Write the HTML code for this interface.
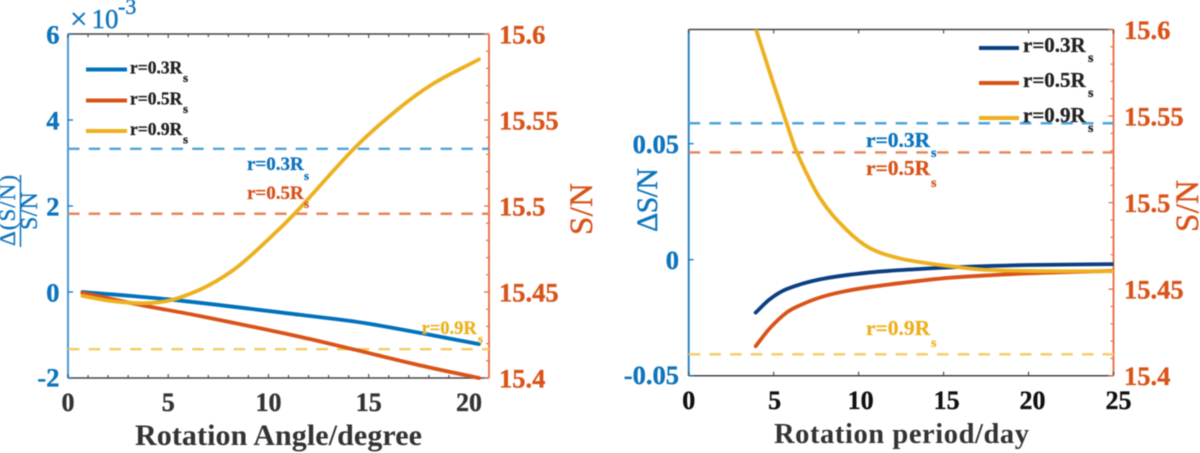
<!DOCTYPE html>
<html lang="en">
<head>
<meta charset="utf-8">
<title>Rotation S/N charts</title>
<style>
html,body{margin:0;padding:0;background:#fff;width:1200px;height:453px;overflow:hidden}
svg{display:block;filter:blur(0.4px)}
text{font-family:"Liberation Serif",serif;font-weight:bold}
.heavy-dark text{stroke:#222;stroke-width:.3px}
.heavy-blue text{stroke:#0d74bd;stroke-width:.3px}
.heavy-orange text{stroke:#d95319;stroke-width:.3px}
.heavy-yellow text{stroke:#edb120;stroke-width:.25px}
</style>
</head>
<body>
<svg id="figure" xmlns="http://www.w3.org/2000/svg" width="1200" height="453" viewBox="0 0 1200 453">
  <defs>
    <clipPath id="clip-left"><rect x="68" y="34" width="421" height="346"/></clipPath>
    <clipPath id="clip-right"><rect x="688.7" y="29.5" width="424.8" height="346.2"/></clipPath>
  </defs>
  <rect x="0" y="0" width="1200" height="453" fill="#fff"/>
  <g id="left-panel"></g>
  <g id="right-panel"></g>

  <text x="135" y="445" font-size="30" fill="#333" textLength="287" lengthAdjust="spacing">Rotation Angle/degree</text>
  <text x="774" y="443" font-size="28.5" fill="#333" textLength="255" lengthAdjust="spacing">Rotation period/day</text>

  <g fill="#0d74bd" stroke="#0d74bd" stroke-width="0.4">
    <text x="70" y="29" font-size="31" style="font-weight:normal">×</text>
    <text x="91.5" y="28" font-size="27" style="font-weight:normal">10</text>
    <text x="118" y="14" font-size="22" style="font-weight:normal">-3</text>
  </g>

  <g fill="#0d74bd" stroke="#0d74bd" stroke-width="0.3">
    <text transform="translate(15,246) rotate(-90)" font-size="23" textLength="71" lengthAdjust="spacing" style="font-weight:normal">Δ(S/N)</text>
    <line x1="20.5" y1="175" x2="20.5" y2="247" stroke="#0d74bd" stroke-width="1.5"/>
    <text transform="translate(37,230) rotate(-90)" font-size="24" textLength="38" lengthAdjust="spacing" style="font-weight:normal">S/N</text>
  </g>
  <text transform="translate(592,235) rotate(-90)" font-size="33" fill="#d95319" stroke="#d95319" stroke-width="0.4" textLength="52" lengthAdjust="spacing" style="font-weight:normal">S/N</text>
  <text transform="translate(657,232) rotate(-90)" font-size="30" fill="#0d74bd" stroke="#0d74bd" stroke-width="0.4" textLength="64" lengthAdjust="spacing" style="font-weight:normal">ΔS/N</text>
  <text transform="translate(1198,232) rotate(-90)" font-size="33" fill="#d95319" stroke="#d95319" stroke-width="0.4" textLength="52" lengthAdjust="spacing" style="font-weight:normal">S/N</text>

  <g class="heavy-dark">
    <g>
      <line x1="86" y1="69.5" x2="127" y2="69.5" stroke="#0072bd" stroke-width="4"/>
      <text x="130" y="73.5" font-size="17.5" fill="#222">r=0.3R</text><text x="183" y="82" font-size="13" fill="#222">s</text>
    </g>
    <g>
      <line x1="86" y1="100.5" x2="127" y2="100.5" stroke="#d95319" stroke-width="4"/>
      <text x="130" y="104.5" font-size="17.5" fill="#222">r=0.5R</text><text x="183" y="113" font-size="13" fill="#222">s</text>
    </g>
    <g>
      <line x1="86" y1="131" x2="127" y2="131" stroke="#edb120" stroke-width="4"/>
      <text x="130" y="135" font-size="17.5" fill="#222">r=0.9R</text><text x="183" y="143.5" font-size="13" fill="#222">s</text>
    </g>
  </g>

  <g class="heavy-dark">
    <g>
      <line x1="979" y1="48" x2="1019" y2="48" stroke="#0b3f82" stroke-width="4"/>
      <text x="1023" y="52" font-size="21" fill="#222">r=0.3R</text><text x="1088" y="62" font-size="14" fill="#222">s</text>
    </g>
    <g>
      <line x1="979" y1="83" x2="1019" y2="83" stroke="#d95319" stroke-width="4"/>
      <text x="1023" y="87" font-size="21" fill="#222">r=0.5R</text><text x="1088" y="97" font-size="14" fill="#222">s</text>
    </g>
    <g>
      <line x1="979" y1="118" x2="1019" y2="118" stroke="#edb120" stroke-width="4"/>
      <text x="1023" y="122" font-size="21" fill="#222">r=0.9R</text><text x="1088" y="132" font-size="14" fill="#222">s</text>
    </g>
  </g>

  <g>
    <g class="heavy-blue" fill="#0d74bd"><text x="247" y="170" font-size="19">r=0.3R</text><text x="304" y="180" font-size="13">s</text></g>
    <g class="heavy-orange" fill="#d95319"><text x="247" y="199" font-size="19">r=0.5R</text><text x="304" y="208" font-size="13">s</text></g>
    <g class="heavy-yellow" fill="#edb120"><text x="421.5" y="334" font-size="18.5">r=0.9R</text><text x="478" y="343" font-size="13">s</text></g>
  </g>
  <g>
    <g class="heavy-blue" fill="#0d74bd"><text x="866" y="147" font-size="21.5">r=0.3R</text><text x="931" y="157" font-size="14">s</text></g>
    <g class="heavy-orange" fill="#d95319"><text x="866" y="175" font-size="21.5">r=0.5R</text><text x="931" y="187" font-size="14">s</text></g>
    <g class="heavy-yellow" fill="#edb120"><text x="866" y="335" font-size="21.5">r=0.9R</text><text x="931" y="347" font-size="14">s</text></g>
  </g>
</svg>
<script>
/* Left panel data: rotation angle (degree) vs relative change (x 10^-3) */
const angleR03X = [0.72, 5, 11.56, 14.9, 20.5];
const angleR03Y = [0, -0.17, -0.53, -0.73, -1.21];
const angleR05X = [0.72, 3.5, 6.6, 11.56, 14.2, 17.5, 20.5];
const angleR05Y = [-0.02, -0.29, -0.56, -1.04, -1.33, -1.7, -2];
const angleR09X = [0.72, 2, 3.5, 4.5, 5.5, 7, 8.55, 10.57, 11.56, 14.3, 16.4, 18.2, 20.5];
const angleR09Y = [-0.09, -0.2, -0.26, -0.24, -0.14, 0.15, 0.62, 1.48, 1.95, 3.35, 4.23, 4.84, 5.41];
const angleLevels = [3.33, 1.82, -1.33];
const angleXTickLabels = [0, 5, 10, 15, 20];
const angleYTickLabels = [6, 4, 2, 0, -2];

/* Right panel data: rotation period (day) vs change in S/N */
const periodR03X = [3.94, 4.78, 5.76, 7.72, 10.66, 13.6, 15.76, 20, 25];
const periodR03Y = [-0.0228, -0.017, -0.0127, -0.0085, -0.0055, -0.004, -0.0032, -0.0023, -0.0019];
const periodR05X = [3.94, 4.78, 5.76, 6.6, 7.72, 9, 10.66, 13.6, 15.7, 20, 25];
const periodR05Y = [-0.0373, -0.0295, -0.0228, -0.0195, -0.0163, -0.0139, -0.0118, -0.0091, -0.0076, -0.0059, -0.0048];
const periodR09X = [3.96, 4.97, 5.76, 6.35, 7.72, 9.3, 10.66, 12.4, 14.4, 15.4, 17.3, 20.2, 25];
const periodR09Y = [0.0992, 0.0762, 0.0589, 0.0465, 0.0266, 0.0128, 0.005, 0.0006, -0.0019, -0.0028, -0.0043, -0.0049, -0.005];
const periodLevels = [0.0588, 0.0462, -0.0408];
const periodXTickLabels = [0, 5, 10, 15, 20, 25];
const periodYTickLabels = ['0.05', '0', '-0.05'];

/* Secondary S/N axis, shared by both panels */
const snrTickLabels = ['15.6', '15.55', '15.5', '15.45', '15.4'];
const snrMinorTicks = [15.41, 15.42, 15.43, 15.44, 15.46, 15.47, 15.48, 15.49, 15.51, 15.52, 15.53, 15.54, 15.56, 15.57, 15.58, 15.59];
const angleMinorTicks = [1, 2, 3, 4, 6, 7, 8, 9, 11, 12, 13, 14, 16, 17, 18, 19];

const NS = 'http://www.w3.org/2000/svg';
const BLUE = '#0d74bd', ORANGE = '#d95319', AXIS_DARK = '#444';

function linearScale(d0, d1, r0, r1) {
  return function (v) { return r0 + (v - d0) * (r1 - r0) / (d1 - d0); };
}
function smoothPath(px, py) {
  let d = 'M' + px[0].toFixed(2) + ' ' + py[0].toFixed(2);
  for (let i = 0; i < px.length - 1; i++) {
    const a = Math.max(i - 1, 0), b = Math.min(i + 2, px.length - 1);
    const h = px[i + 1] - px[i];
    const m0 = (py[i + 1] - py[a]) / (px[i + 1] - px[a]);
    const m1 = (py[b] - py[i]) / (px[b] - px[i]);
    const c1x = px[i] + h / 3, c1y = py[i] + m0 * h / 3;
    const c2x = px[i + 1] - h / 3, c2y = py[i + 1] - m1 * h / 3;
    d += 'C' + c1x.toFixed(2) + ' ' + c1y.toFixed(2) + ' ' + c2x.toFixed(2) + ' ' + c2y.toFixed(2) + ' ' + px[i + 1].toFixed(2) + ' ' + py[i + 1].toFixed(2);
  }
  return d;
}
function addLine(parent, x1, y1, x2, y2, color, width, name) {
  const el = document.createElementNS(NS, 'line');
  el.setAttribute('x1', x1);
  el.setAttribute('y1', y1);
  el.setAttribute('x2', x2);
  el.setAttribute('y2', y2);
  el.setAttribute('stroke', color);
  el.setAttribute('stroke-width', width);
  
  
  parent.appendChild(el);
  return el;
}
function addLabel(parent, x, y, str, anchor, color, size, name) {
  const el = document.createElementNS(NS, 'text');
  el.setAttribute('x', x);
  el.setAttribute('y', y);
  el.setAttribute('text-anchor', anchor);
  el.setAttribute('fill', color);
  el.setAttribute('stroke', color);
  el.setAttribute('stroke-width', '0.35');
  el.setAttribute('font-size', size);
  
  
  el.textContent = str;
  parent.appendChild(el);
}
function addCurve(parent, xs, ys, sx, sy, color, clipId, name) {
  const el = document.createElementNS(NS, 'path');
  el.setAttribute('d', smoothPath(xs.map(sx), ys.map(sy)));
  el.setAttribute('fill', 'none');
  el.setAttribute('stroke', color);
  el.setAttribute('stroke-width', '3.8');
  el.setAttribute('stroke-linecap', 'round');
  el.setAttribute('clip-path', 'url(#' + clipId + ')');
  
  
  parent.appendChild(el);
}

function drawPanel(p) {
  const g = document.getElementById(p.id);
  const sx = linearScale(p.xDomain[0], p.xDomain[1], p.left, p.right);
  const sy = linearScale(p.yDomain[0], p.yDomain[1], p.bottom, p.top);
  const sr = linearScale(15.4, 15.6, p.bottom, p.top);

  addLine(g, p.left, p.top, p.right, p.top, AXIS_DARK, 1.5, p.prefix + '-top-axis');
  addLine(g, p.left, p.bottom, p.right, p.bottom, AXIS_DARK, 1.5, p.prefix + '-bottom-axis');
  addLine(g, p.left, p.top, p.left, p.bottom, p.leftSpine, 1.9, p.prefix + '-left-axis');
  addLine(g, p.right, p.top, p.right, p.bottom, '#e8734a', 1.9, p.prefix + '-right-axis');

  p.xMinor.forEach(function (v) {
    addLine(g, sx(v), p.top, sx(v), p.top + 3, AXIS_DARK, 1.1, p.prefix + '-top-minor-tick');
    addLine(g, sx(v), p.bottom, sx(v), p.bottom - 3, AXIS_DARK, 1.1, p.prefix + '-bottom-minor-tick');
  });
  p.xTicks.forEach(function (v) {
    addLine(g, sx(v), p.top, sx(v), p.top + 4, AXIS_DARK, 1.1, p.prefix + '-top-tick');
    addLine(g, sx(v), p.bottom, sx(v), p.bottom - 4, AXIS_DARK, 1.1, p.prefix + '-bottom-tick');
    addLabel(g, sx(v) + v * p.xLabelShift, p.xLabelY, String(v), 'middle', p.xLabelColor, 26, p.prefix + '-x-tick-label');
  });
  p.yTicks.forEach(function (t) {
    const v = Number(t);
    addLine(g, p.left, sy(v), p.left + 5, sy(v), BLUE, 1.3, p.prefix + '-y-tick');
    addLabel(g, p.yLabelX, Math.min(sy(v), p.bottom - 1) + 9.5, String(t), 'end', BLUE, 26.5, p.prefix + '-y-tick-label');
  });
  snrTickLabels.forEach(function (t) {
    const v = Number(t);
    addLine(g, p.right, sr(v), p.right - 5, sr(v), '#e8734a', 1.3, p.prefix + '-snr-tick');
    addLabel(g, p.snrLabelX, sr(v) + 9.5, t, 'start', ORANGE, 26.5, p.prefix + '-snr-tick-label');
  });
  snrMinorTicks.forEach(function (v) {
    addLine(g, p.right, sr(v), p.right - 3, sr(v), '#e8734a', 1.2, p.prefix + '-snr-minor-tick');
  });

  p.levels.forEach(function (v, i) {
    const line = addLine(g, p.left, sy(v), p.right, sy(v), p.levelColors[i], 2.4, p.prefix + '-threshold-line-' + p.seriesKeys[i]);
    line.setAttribute('stroke-dasharray', p.dash);
  });

  p.series.forEach(function (s) {
    addCurve(g, s.x, s.y, sx, sy, s.color, p.clip, p.prefix + '-curve-' + s.key);
  });
}

drawPanel({
  id: 'left-panel', prefix: 'left', clip: 'clip-left',
  left: 68, right: 489, top: 34, bottom: 378,
  xDomain: [0, 21], yDomain: [-2, 6],
  xTicks: angleXTickLabels, xMinor: angleMinorTicks, yTicks: angleYTickLabels,
  xLabelY: 411, xLabelShift: 0, xLabelColor: '#333', yLabelX: 59.5, snrLabelX: 499,
  leftSpine: '#3f97d3', dash: '11.5 9.2',
  levels: angleLevels, levelColors: ['#4fa3dc', '#e8845a', '#f5cb62'], seriesKeys: ['r03', 'r05', 'r09'],
  series: [
    { key: 'r03', x: angleR03X, y: angleR03Y, color: '#0072bd' },
    { key: 'r05', x: angleR05X, y: angleR05Y, color: '#d95319' },
    { key: 'r09', x: angleR09X, y: angleR09Y, color: '#edb120' }
  ]
});
drawPanel({
  id: 'right-panel', prefix: 'right', clip: 'clip-right',
  left: 688.7, right: 1113.5, top: 29.5, bottom: 375.7,
  xDomain: [0, 25], yDomain: [-0.05, 0.0992],
  xTicks: periodXTickLabels, xMinor: [], yTicks: periodYTickLabels,
  xLabelY: 409, xLabelShift: 0.2, xLabelColor: '#111', yLabelX: 679, snrLabelX: 1124,
  leftSpine: '#1f7fc4', dash: '11.5 9.2',
  levels: periodLevels, levelColors: ['#4fa3dc', '#e8845a', '#f5cb62'], seriesKeys: ['r03', 'r05', 'r09'],
  series: [
    { key: 'r03', x: periodR03X, y: periodR03Y, color: '#0b3f82' },
    { key: 'r05', x: periodR05X, y: periodR05Y, color: '#d95319' },
    { key: 'r09', x: periodR09X, y: periodR09Y, color: '#edb120' }
  ]
});
</script>
</body>
</html>
